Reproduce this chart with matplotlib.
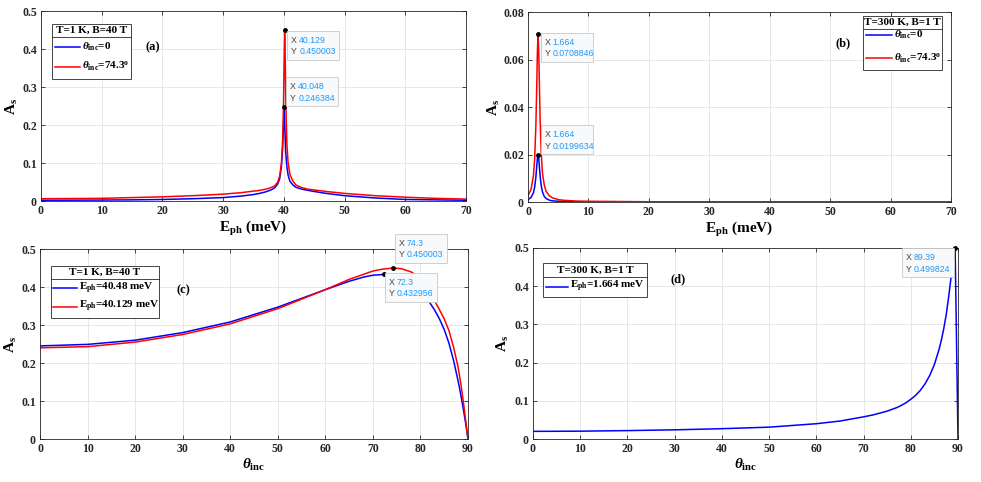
import matplotlib
matplotlib.use('Agg')
import matplotlib.pyplot as plt
from matplotlib.patches import Rectangle
from matplotlib.lines import Line2D
from matplotlib.ticker import FormatStrFormatter

plt.rcParams['font.family'] = ['Liberation Serif', 'DejaVu Serif']
plt.rcParams['font.weight'] = 'bold'
plt.rcParams['axes.labelweight'] = 'bold'
plt.rcParams['mathtext.fontset'] = 'custom'
plt.rcParams['mathtext.rm'] = 'Liberation Serif:bold'
plt.rcParams['mathtext.it'] = 'Liberation Serif:italic'
plt.rcParams['mathtext.bf'] = 'Liberation Serif:bold'

# ---- (a) T=1 K, B=40 T : A_s vs E_ph
a_blue_x = [0, 5, 10, 15, 20, 25, 30, 33, 35, 36, 37, 38, 38.5, 39, 39.3, 39.6, 39.8, 39.95, 40.048,
            40.15, 40.3, 40.5, 40.7, 41, 41.5, 42, 43, 44, 45, 47, 50, 55, 60, 65, 70]
a_blue_y = [0.002, 0.0022, 0.0025, 0.003, 0.004, 0.006, 0.009, 0.013, 0.017, 0.020, 0.024, 0.030, 0.035,
            0.045, 0.058, 0.09, 0.14, 0.20, 0.246384, 0.20, 0.13, 0.09, 0.068, 0.052, 0.042, 0.036, 0.031,
            0.028, 0.025, 0.020, 0.014, 0.008, 0.004, 0.003, 0.002]
a_red_x = [0, 5, 10, 15, 20, 25, 30, 33, 35, 36, 37, 38, 38.5, 39, 39.3, 39.6, 39.8, 39.95, 40.05, 40.129,
           40.2, 40.35, 40.5, 40.7, 41, 41.5, 42, 43, 44, 45, 47, 50, 55, 60, 65, 70]
a_red_y = [0.006, 0.0065, 0.007, 0.009, 0.011, 0.014, 0.018, 0.022, 0.026, 0.028, 0.031, 0.036, 0.040,
           0.050, 0.065, 0.10, 0.16, 0.26, 0.38, 0.450003, 0.40, 0.24, 0.15, 0.10, 0.07, 0.052, 0.042,
           0.035, 0.031, 0.029, 0.025, 0.020, 0.014, 0.010, 0.007, 0.005]

# ---- (b) T=300 K, B=1 T : A_s vs E_ph
b_blue_x = [0, 0.5, 0.9, 1.1, 1.3, 1.45, 1.55, 1.664, 1.78, 1.88, 2.0, 2.2, 2.4, 2.7, 3.0, 3.5, 4, 5, 6,
            8, 10, 20, 70]
b_blue_y = [0.0010, 0.0019, 0.0039, 0.0062, 0.0104, 0.0151, 0.0183, 0.0199634, 0.0183, 0.0151, 0.0112,
            0.0067, 0.0042, 0.0023, 0.0015, 0.0008, 0.0005, 0.0003, 0.0002, 0.0001, 0.00006, 0.00002,
            0.00001]
b_red_x = [0, 0.5, 0.9, 1.1, 1.3, 1.45, 1.55, 1.664, 1.78, 1.88, 2.0, 2.2, 2.4, 2.7, 3.0, 3.5, 4, 5, 6,
           8, 10, 15, 20, 30, 50, 70]
b_red_y = [0.0027, 0.0053, 0.0110, 0.018, 0.032, 0.049, 0.063, 0.0708846, 0.063, 0.050, 0.035, 0.020,
           0.012, 0.0070, 0.0045, 0.0027, 0.0018, 0.0010, 0.0007, 0.0004, 0.0003, 0.0002, 0.0001,
           0.00005, 0.00002, 0.00001]

# ---- (c) T=1 K, B=40 T : A_s vs theta_inc
c_blue_x = [0, 10, 20, 30, 40, 50, 60, 65, 68, 70, 72.3, 74, 76, 78, 80, 81, 82, 83, 84, 85, 86, 87,
            88, 88.4, 89, 89.5, 90]
c_blue_y = [0.245, 0.249, 0.260, 0.280, 0.308, 0.347, 0.393, 0.415, 0.426, 0.431, 0.432956, 0.431,
            0.424, 0.410, 0.388, 0.374, 0.358, 0.339, 0.316, 0.288, 0.252, 0.205, 0.148, 0.122, 0.080,
            0.042, 0.0]
c_red_x = [0, 10, 20, 30, 40, 50, 60, 65, 70, 72, 74.3, 76, 78, 79, 80, 81, 82, 83, 84, 85, 86, 87,
           87.9, 88.5, 89, 89.5, 90]
c_red_y = [0.240, 0.243, 0.255, 0.275, 0.303, 0.343, 0.393, 0.420, 0.442, 0.447, 0.450003, 0.448,
           0.440, 0.432, 0.420, 0.403, 0.384, 0.363, 0.340, 0.316, 0.285, 0.240, 0.190, 0.145, 0.100,
           0.050, 0.0]

# ---- (d) T=300 K, B=1 T : A_s vs theta_inc
d_x = [0, 10, 20, 30, 40, 50, 60, 65, 70, 72, 75, 77, 78, 79, 80, 81, 82, 83, 84, 85, 86, 86.5, 87,
       87.5, 88, 88.5, 89, 89.39, 90]
d_y = [0.020, 0.0205, 0.022, 0.024, 0.027, 0.031, 0.040, 0.047, 0.058, 0.063, 0.073, 0.082, 0.088,
       0.095, 0.104, 0.114, 0.127, 0.144, 0.166, 0.195, 0.235, 0.260, 0.290, 0.325, 0.370, 0.420, 0.470,
       0.499824, 0.0]

W, H = 981, 482
fig = plt.figure(figsize=(W / 100, H / 100), dpi=100)
BLUE = '#0000ff'
RED = '#ff0000'
EDGE = '#262626'


def make_axes(l, t, r, b):
    ax = fig.add_axes([l / W, 1 - b / H, (r - l) / W, (b - t) / H])
    ax.grid(True, color='#e3e3e3', lw=0.6)
    ax.set_axisbelow(True)
    ax.tick_params(direction='in', length=3, width=0.6, top=True, right=True,
                   labelsize=8.5, colors=EDGE, pad=3)
    for s in ax.spines.values():
        s.set_color(EDGE)
        s.set_linewidth(0.6)
    return ax


def datatip(ax, x, y, dx, dy, w=52, h=29):
    # dx, dy = top-left corner of box relative to the point, in image pixels (y down)
    px, py = ax.transData.transform((x, y))
    left = px + dx
    top = py - dy
    fig.add_artist(Rectangle((left / W, (top - h) / H), w / W, h / H, transform=fig.transFigure,
                             fc='#f8f9fb', ec='#c8c8c8', lw=0.6, zorder=6))
    for i, (k, v) in enumerate([('X', x), ('Y', y)]):
        yy = (top - 9.5 - 11.5 * i) / H
        fig.text((left + 4) / W, yy, k, color='#404040', fontsize=6.3, family='Liberation Sans',
                 weight='normal', va='center', zorder=7)
        fig.text((left + 12) / W, yy, '%g' % v if k == 'X' else str(v), color='#1a9bff', fontsize=6.3,
                 family='Liberation Sans', weight='normal', va='center', zorder=7)
    ax.plot([x], [y], 'o', ms=2.5, color='k', clip_on=False, zorder=8)


def legend_box(l, t, r, b, sep, title, rows, lx0, lx1, tx):
    fig.add_artist(Rectangle((l / W, 1 - b / H), (r - l) / W, (b - t) / H, transform=fig.transFigure,
                             fc='white', ec=EDGE, lw=0.6, zorder=4))
    fig.add_artist(Line2D([l / W, r / W], [1 - sep / H] * 2, color=EDGE, lw=0.6, zorder=5))
    fig.text((l + r) / 2 / W, 1 - (t + sep) / 2 / H, title, ha='center', va='center', fontsize=8,
             zorder=5)
    for ry, col, lab in rows:
        fig.add_artist(Line2D([lx0 / W, lx1 / W], [1 - ry / H] * 2, color=col, lw=1.1, zorder=5))
        fig.text(tx / W, 1 - ry / H, lab, ha='left', va='center', fontsize=8, zorder=5)


def style(ax, xmax, ymax, yticks, xlabel, ylx):
    ax.set_xlim(0, xmax)
    ax.set_ylim(0, ymax)
    ax.set_xticks(range(0, xmax + 1, 10))
    ax.set_yticks(yticks)
    ax.yaxis.set_major_formatter(FormatStrFormatter('%g'))
    ax.set_xlabel(xlabel, fontsize=11, labelpad=1)
    ax.set_ylabel(r'$\mathrm{A}_{\mathrm{s}}$', fontsize=11)
    ax.yaxis.set_label_coords(ylx, 0.5)


th0 = r'$\theta_{\mathrm{inc}}$=0'
th743 = r'$\theta_{\mathrm{inc}}$=74.3$^{\mathrm{o}}$'
eph = r'$\mathrm{E}_{\mathrm{ph}}$ (meV)'
thinc = r'$\theta_{\mathrm{inc}}$'
yt5 = [0, 0.1, 0.2, 0.3, 0.4, 0.5]

# (a)
ax = make_axes(41, 11, 466, 201)
ax.plot(a_blue_x, a_blue_y, color=BLUE, lw=1.1)
ax.plot(a_red_x, a_red_y, color=RED, lw=1.1)
style(ax, 70, 0.5, yt5, eph, -0.05)
ax.text(0.264, 0.81, '(a)', transform=ax.transAxes, ha='center', va='center', fontsize=9)
datatip(ax, 40.129, 0.450003, 2.5, 1)
datatip(ax, 40.048, 0.246384, 2, -30)
legend_box(52, 24, 131, 79, 37, 'T=1 K, B=40 T', [(46.7, BLUE, th0), (66.7, RED, th743)], 55, 80, 82)

# (b)
ax = make_axes(528, 12, 951, 202)
ax.plot(b_blue_x, b_blue_y, color=BLUE, lw=1.1)
ax.plot(b_red_x, b_red_y, color=RED, lw=1.1)
style(ax, 70, 0.08, [0, 0.02, 0.04, 0.06, 0.08], eph, -0.062)
ax.text(0.745, 0.837, '(b)', transform=ax.transAxes, ha='center', va='center', fontsize=9)
datatip(ax, 1.664, 0.0708846, 2.5, -1)
datatip(ax, 1.664, 0.0199634, 2.5, -29.5)
legend_box(863, 16, 942, 70, 29.3, 'T=300 K, B=1 T', [(35, BLUE, th0), (58, RED, th743)], 866, 892, 894)

# (c)
ax = make_axes(40, 249, 468, 439)
ax.plot(c_blue_x, c_blue_y, color=BLUE, lw=1.1)
ax.plot(c_red_x, c_red_y, color=RED, lw=1.1)
style(ax, 90, 0.5, yt5, thinc, -0.05)
ax.text(0.334, 0.784, '(c)', transform=ax.transAxes, ha='center', va='center', fontsize=9)
datatip(ax, 74.3, 0.450003, 1.5, -34)
datatip(ax, 72.3, 0.432956, 1, -1.5)
legend_box(51, 266, 159, 318, 279, 'T=1 K, B=40 T',
           [(288.3, BLUE, r'$\mathrm{E}_{\mathrm{ph}}$=40.48 meV'),
            (306.7, RED, r'$\mathrm{E}_{\mathrm{ph}}$=40.129 meV')], 53, 77, 79)

# (d)
ax = make_axes(533, 248, 958, 439)
ax.plot(d_x, d_y, color=BLUE, lw=1.1)
style(ax, 90, 0.5, yt5, thinc, -0.052)
ax.text(0.341, 0.838, '(d)', transform=ax.transAxes, ha='center', va='center', fontsize=9)
datatip(ax, 89.39, 0.499824, -53, 0)
legend_box(543, 263, 647, 297, 277, 'T=300 K, B=1 T',
           [(286.7, BLUE, r'$\mathrm{E}_{\mathrm{ph}}$=1.664 meV')], 546, 568, 570)

fig.savefig('out.png', dpi=100)
